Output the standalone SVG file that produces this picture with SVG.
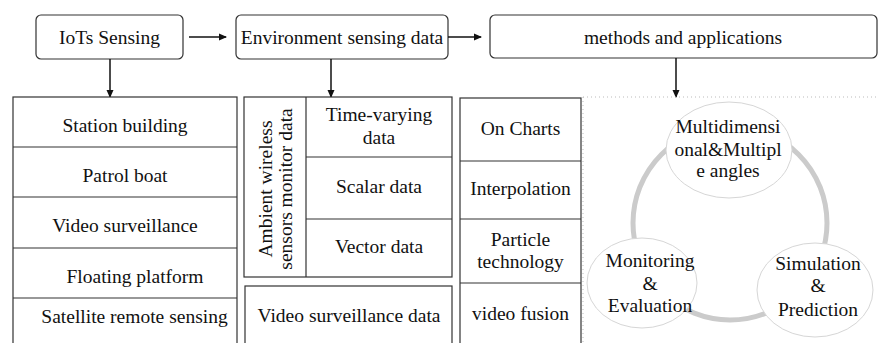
<svg xmlns="http://www.w3.org/2000/svg" width="878" height="343" viewBox="0 0 878 343" font-family="Liberation Serif, Times New Roman, DejaVu Serif, Noto Serif, serif">
  <style>
    .box { fill: #fff; stroke: #333; stroke-width: 1.2; }
    .ln { stroke: #333; stroke-width: 1.2; fill: none; }
    text { font-size: 19.5px; fill: #111; text-anchor: middle; }
    .dot { stroke: #bbb; stroke-width: 1; stroke-dasharray: 1 3; fill: none; }
    .ell { fill: #fff; stroke: #d6d6d6; stroke-width: 1; }
    .arr { stroke: #111; stroke-width: 1.5; fill: none; marker-end: url(#ah); }
  </style>
  <defs>
    <marker id="ah" markerWidth="8" markerHeight="8" refX="7" refY="4" orient="auto" markerUnits="userSpaceOnUse">
      <path d="M0,0.5 L8,4 L0,7.5 Z" fill="#111"/>
    </marker>
  </defs>
  <rect width="878" height="343" fill="#fff"/>

  <!-- top row -->
  <g id="iots">
    <rect class="box" x="36" y="15" width="147" height="44" rx="5"/>
    <text x="109.5" y="44">IoTs Sensing</text>
  </g>
  <g id="env">
    <rect class="box" x="236" y="15" width="212" height="44" rx="5"/>
    <text x="342" y="44">Environment sensing data</text>
  </g>
  <g id="methods">
    <rect class="box" x="490" y="15" width="387" height="43" rx="5"/>
    <text x="683" y="44">methods and applications</text>
  </g>

  <!-- connectors -->
  <g id="connectors">
    <line class="arr" x1="189" y1="37" x2="226" y2="37"/>
    <line class="arr" x1="448" y1="37" x2="481" y2="37"/>
    <line class="arr" x1="110" y1="59" x2="110" y2="97"/>
    <line class="arr" x1="331" y1="59" x2="331" y2="97"/>
    <line class="arr" x1="676" y1="58" x2="676" y2="97"/>
  </g>

  <!-- sensing platforms -->
  <g id="platforms">
    <rect class="box" x="13" y="97" width="224" height="260"/>
    <line class="ln" x1="13" y1="147" x2="237" y2="147"/>
    <line class="ln" x1="13" y1="197" x2="237" y2="197"/>
    <line class="ln" x1="13" y1="248" x2="237" y2="248"/>
    <line class="ln" x1="13" y1="298" x2="237" y2="298"/>
    <text x="125" y="132">Station building</text>
    <text x="125" y="182">Patrol boat</text>
    <text x="125" y="232">Video surveillance</text>
    <text x="135" y="283">Floating platform</text>
    <text x="134.5" y="323">Satellite remote sensing</text>
  </g>

  <!-- wireless sensor data -->
  <g id="sensor-data">
    <rect class="box" x="244" y="97" width="208" height="180"/>
    <line class="ln" x1="306" y1="97" x2="306" y2="277"/>
    <line class="ln" x1="306" y1="157" x2="452" y2="157"/>
    <line class="ln" x1="306" y1="219" x2="452" y2="219"/>
    <text transform="translate(272,189) rotate(-90)">Ambient wireless</text>
    <text transform="translate(292,189) rotate(-90)">sensors monitor data</text>
    <text x="379" y="121">Time-varying</text>
    <text x="379" y="144">data</text>
    <text x="379" y="193">Scalar data</text>
    <text x="379" y="253">Vector data</text>
  </g>

  <g id="video-data">
    <rect class="box" x="245" y="286" width="207" height="70"/>
    <text x="349" y="322">Video surveillance data</text>
  </g>

  <!-- methods column -->
  <g id="method-list">
    <rect class="box" x="460" y="98" width="121" height="260"/>
    <line class="ln" x1="460" y1="161" x2="581" y2="161"/>
    <line class="ln" x1="460" y1="219" x2="581" y2="219"/>
    <line class="ln" x1="460" y1="283" x2="581" y2="283"/>
    <text x="520.5" y="135">On Charts</text>
    <text x="520.5" y="195">Interpolation</text>
    <text x="520.5" y="246">Particle</text>
    <text x="520.5" y="268">technology</text>
    <text x="520.5" y="320">video fusion</text>
  </g>

  <!-- applications panel -->
  <g id="apps-frame">
    <line class="dot" x1="583" y1="97" x2="878" y2="97"/>
    <line class="dot" x1="583" y1="97" x2="583" y2="343"/>
  </g>
  <g id="cycle">
    <circle cx="730" cy="223" r="97" fill="none" stroke="#cbcbcb" stroke-width="5"/>
  </g>
  <g id="multi">
    <ellipse class="ell" cx="729" cy="150" rx="63" ry="48"/>
    <text x="728" y="133">Multidimensi</text>
    <text x="728" y="156">onal&amp;Multipl</text>
    <text x="728" y="177">e angles</text>
  </g>
  <g id="monitor">
    <ellipse class="ell" cx="642" cy="283" rx="55" ry="45"/>
    <text x="650" y="267">Monitoring</text>
    <text x="650" y="290">&amp;</text>
    <text x="650" y="312">Evaluation</text>
  </g>
  <g id="simulation">
    <ellipse class="ell" cx="815" cy="290" rx="58" ry="47"/>
    <text x="818" y="270">Simulation</text>
    <text x="818" y="292">&amp;</text>
    <text x="818" y="316">Prediction</text>
  </g>
</svg>
